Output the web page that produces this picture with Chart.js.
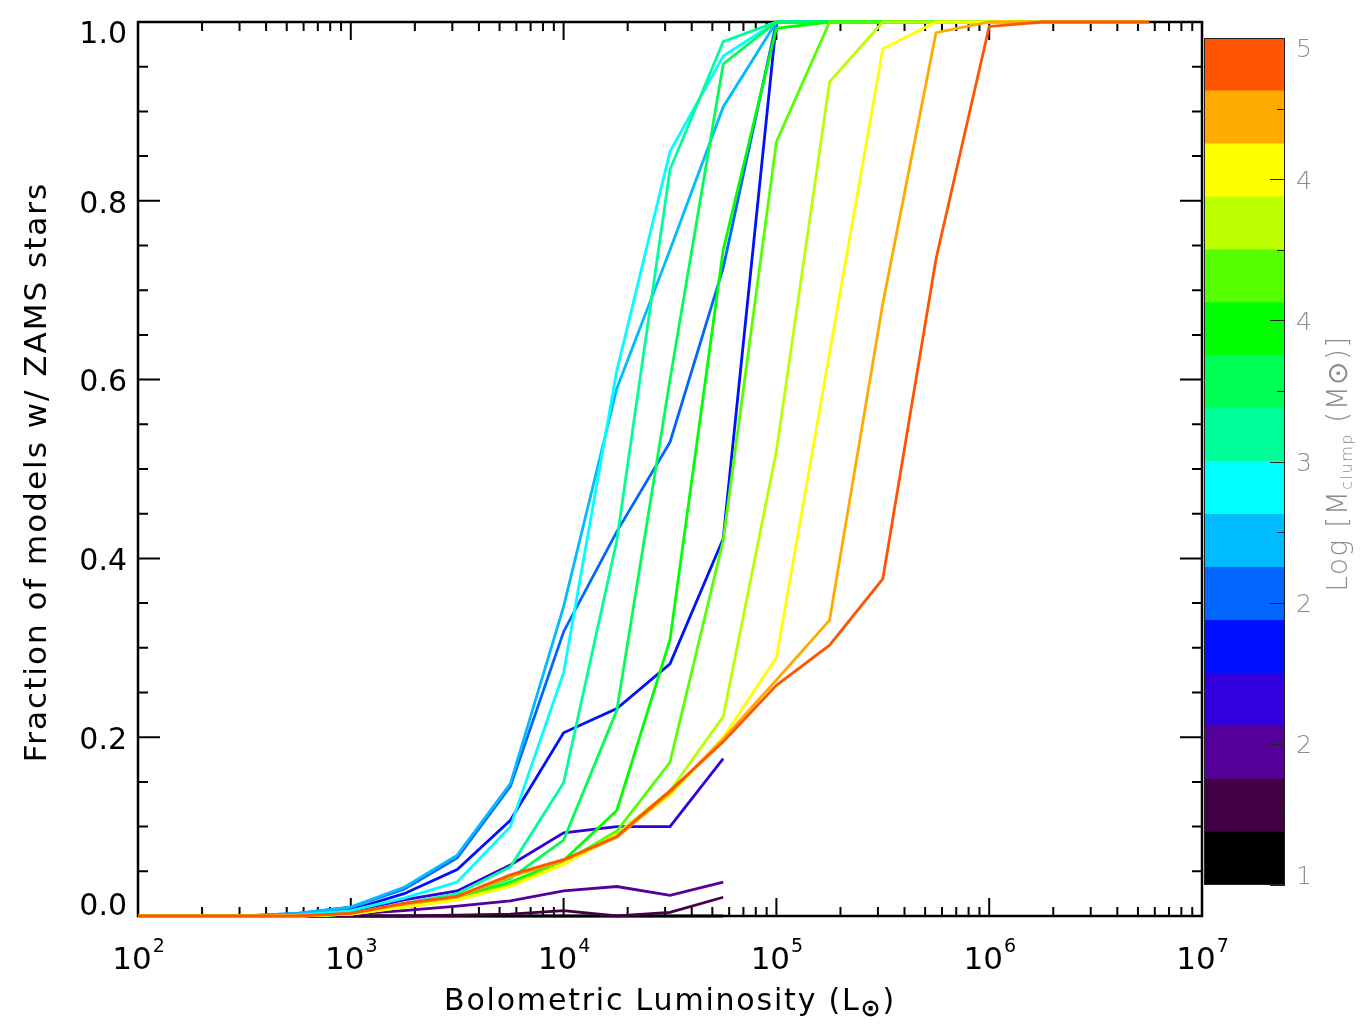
<!DOCTYPE html>
<html><head><meta charset="utf-8">
<script src="https://cdn.jsdelivr.net/npm/chart.js@4.4.1/dist/chart.umd.min.js"></script>
<style>
html,body{margin:0;padding:0;background:#fff;width:1369px;height:1031px;overflow:hidden}
#wrap{position:relative;width:1369px;height:1031px;background:#fff}
#main{position:absolute;left:0;top:0}
#cbar{position:absolute;left:1190px;top:0}
</style></head><body>
<div id="wrap"><canvas id="main" width="1369" height="1031"></canvas><canvas id="cbar" width="179" height="1031"></canvas></div>
<script>
// ---------- data ----------
const luminosity = [100, 177.83, 316.23, 562.34, 1000, 1778.3, 3162.3, 5623.4, 10000, 17783, 31623, 56234, 100000, 177828, 316228, 562341, 1000000, 1778279, 3162278, 5623413];

const fracM100 = [0,0,0,0,0,0,0,0,0,0,0,0,null,null,null,null,null,null,null,null];
const fracM125 = [0,0,0,0,0,0,0.001,0.002,0.006,0,0.004,0.021,null,null,null,null,null,null,null,null];
const fracM150 = [0,0,0,0,0.002,0.006,0.011,0.017,0.028,0.033,0.023,0.038,null,null,null,null,null,null,null,null];
const fracM175 = [0,0,0,0.001,0.005,0.018,0.028,0.057,0.093,0.1,0.1,0.176,null,null,null,null,null,null,null,null];
const fracM200 = [0,0,0,0.002,0.007,0.025,0.052,0.107,0.205,0.232,0.282,0.422,1,1,1,1,1,1,1,1];
const fracM225 = [0,0,0,0.003,0.01,0.03,0.065,0.145,0.318,0.43,0.53,0.725,1,1,1,1,1,1,1,1];
const fracM250 = [0,0,0,0.003,0.01,0.032,0.068,0.148,0.346,0.59,0.745,0.905,1,1,1,1,1,1,1,1];
const fracM275 = [0,0,0,0.001,0.006,0.02,0.038,0.1,0.272,0.61,0.855,0.962,1,1,1,1,1,1,1,1];
const fracM300 = [0,0,0,0,0.003,0.014,0.025,0.055,0.149,0.42,0.835,0.978,1,1,1,1,1,1,1,1];
const fracM325 = [0,0,0,0,0.002,0.012,0.022,0.042,0.085,0.23,0.6,0.953,1,1,1,1,1,1,1,1];
const fracM350 = [0,0,0,0,0.002,0.011,0.02,0.038,0.062,0.118,0.309,0.745,0.993,1,1,1,1,1,1,1];
const fracM375 = [0,0,0,0,0.002,0.01,0.019,0.035,0.06,0.095,0.172,0.42,0.866,1,1,1,1,1,1,1];
const fracM400 = [0,0,0,0,0.002,0.01,0.018,0.034,0.058,0.092,0.14,0.223,0.52,0.933,1,1,1,1,1,1];
const fracM425 = [0,0,0,0,0.002,0.01,0.018,0.033,0.058,0.09,0.135,0.2,0.289,0.63,0.97,1,1,1,1,1];
const fracM450 = [0,0,0,0,0.003,0.013,0.021,0.044,0.062,0.088,0.138,0.198,0.264,0.331,0.685,0.988,1,1,1,1];
const fracM475 = [0,0,0,0,0.003,0.014,0.022,0.046,0.063,0.089,0.14,0.195,0.258,0.303,0.377,0.735,0.995,1,1,1];

const seriesList = [fracM100, fracM125, fracM150, fracM175, fracM200, fracM225, fracM250, fracM275,
                    fracM300, fracM325, fracM350, fracM375, fracM400, fracM425, fracM450, fracM475];
const binColors = ['#000000','#440044','#550099','#3300DD','#0011FF','#0066FF','#00BBFF','#00FFFF',
                   '#00FF99','#00FF55','#00FF00','#55FF00','#BBFF00','#FFFF00','#FFAA00','#FF5500'];
const massBinEdges = [1.00,1.25,1.50,1.75,2.00,2.25,2.50,2.75,3.00,3.25,3.50,3.75,4.00,4.25,4.50,4.75,5.00];

const xMajorTicks = [1e2, 1e3, 1e4, 1e5, 1e6, 1e7];
const xTickBase = ['10','10','10','10','10','10'];
const xTickExp = ['2','3','4','5','6','7'];
const yMajorTicks = [0, 0.2, 0.4, 0.6, 0.8, 1.0];
const yTickLabels = ['0.0','0.2','0.4','0.6','0.8','1.0'];
const cbarTickValues = [1, 1.6667, 2.3333, 3, 3.6667, 4.3333, 5];
const cbarTickLabels = ['1','2','2','3','4','4','5'];
const cbarMinorTicks = [1.3333, 2, 2.6667, 3.3333, 4, 4.6667];

const xTitle = 'Bolometric Luminosity (L';
const xTitleSub = '\u2299';
const xTitleEnd = ')';
const yTitle = 'Fraction of models w/ ZAMS stars';
const cTitleA = 'Log [M';
const cTitleSub = 'clump';
const cTitleB = ' (M\u2299)]';

const FONT = '"DejaVu Sans", "Liberation Sans", sans-serif';

// ---------- main chart ----------
const xMinorTicks = [];
for (let k = 2; k < 7; k++) for (let m = 2; m <= 9; m++) xMinorTicks.push(m * Math.pow(10, k));
const yMinorTicks = [];
for (let i = 1; i < 20; i++) if (i % 4 !== 0) yMinorTicks.push(i * 0.05);

const mainDecor = {
  id: 'mainDecor',
  beforeDatasetsDraw(chart) {
    const {ctx, chartArea: a, scales: {x, y}} = chart;
    ctx.save();
    ctx.strokeStyle = '#000';
    ctx.lineWidth = 2;
    ctx.beginPath();
    xMinorTicks.forEach(v => { const p = x.getPixelForValue(v);
      ctx.moveTo(p, a.bottom); ctx.lineTo(p, a.bottom - 9); ctx.moveTo(p, a.top); ctx.lineTo(p, a.top + 9); });
    xMajorTicks.forEach(v => { const p = x.getPixelForValue(v);
      ctx.moveTo(p, a.bottom); ctx.lineTo(p, a.bottom - 18); ctx.moveTo(p, a.top); ctx.lineTo(p, a.top + 18); });
    yMinorTicks.forEach(v => { const p = y.getPixelForValue(v);
      ctx.moveTo(a.left, p); ctx.lineTo(a.left + 10, p); ctx.moveTo(a.right, p); ctx.lineTo(a.right - 10, p); });
    yMajorTicks.forEach(v => { const p = y.getPixelForValue(v);
      ctx.moveTo(a.left, p); ctx.lineTo(a.left + 22, p); ctx.moveTo(a.right, p); ctx.lineTo(a.right - 22, p); });
    ctx.stroke();
    ctx.lineWidth = 2.5;
    ctx.strokeRect(a.left, a.top, a.right - a.left, a.bottom - a.top);
    ctx.restore();
  },
  afterDraw(chart) {
    const {ctx, chartArea: a, scales: {x, y}} = chart;
    ctx.save();
    ctx.fillStyle = '#000';
    // y tick labels
    ctx.font = '30px ' + FONT;
    ctx.textAlign = 'right';
    ctx.textBaseline = 'middle';
    yMajorTicks.forEach((v, i) => {
      let p = y.getPixelForValue(v) + 4;
      p = Math.max(a.top + 13, Math.min(a.bottom - 9, p));
      ctx.fillText(yTickLabels[i], a.left - 11, p);
    });
    // x tick labels with superscripts
    ctx.textAlign = 'left';
    ctx.textBaseline = 'alphabetic';
    xMajorTicks.forEach((v, i) => {
      const p = x.getPixelForValue(v);
      ctx.font = '31px ' + FONT;
      const w1 = ctx.measureText(xTickBase[i]).width;
      ctx.font = '19px ' + FONT;
      const w2 = ctx.measureText(xTickExp[i]).width;
      const s = p - (w1 + w2) / 2;
      ctx.font = '31px ' + FONT;
      ctx.fillText(xTickBase[i], s, 969);
      ctx.font = '19px ' + FONT;
      ctx.fillText(xTickExp[i], s + w1 + 1, 952);
    });
    // x title
    ctx.font = '30px ' + FONT;
    ctx.letterSpacing = '1.8px';
    const tw1 = ctx.measureText(xTitle).width;
    ctx.font = 'bold 24px ' + FONT;
    const tw2 = ctx.measureText(xTitleSub).width;
    ctx.font = '30px ' + FONT;
    const tw3 = ctx.measureText(xTitleEnd).width;
    let sx = (a.left + a.right) / 2 - (tw1 + tw2 + tw3) / 2;
    ctx.fillText(xTitle, sx, 1010);
    ctx.font = 'bold 24px ' + FONT;
    ctx.fillText(xTitleSub, sx + tw1, 1016);
    ctx.font = '30px ' + FONT;
    ctx.fillText(xTitleEnd, sx + tw1 + tw2, 1010);
    // y title
    ctx.translate(46, (a.top + a.bottom) / 2 + 3);
    ctx.rotate(-Math.PI / 2);
    ctx.font = '31px ' + FONT;
    ctx.letterSpacing = '2px';
    ctx.textAlign = 'center';
    ctx.fillText(yTitle, 0, 0);
    ctx.restore();
  }
};

const datasets = seriesList.map((s, i) => ({
  label: 'logM ' + massBinEdges[i].toFixed(2),
  data: luminosity.map((L, j) => ({x: L, y: s[j]})).filter(p => p.y !== null),
  borderColor: binColors[i],
  backgroundColor: binColors[i],
  borderWidth: 2.8,
  pointRadius: 0,
  tension: 0,
  fill: false,
  clip: false,
  order: seriesList.length - i
}));

new Chart(document.getElementById('main'), {
  type: 'line',
  data: {datasets},
  options: {
    responsive: false, animation: false, devicePixelRatio: 1,
    layout: {padding: {left: 0, right: 167, top: 22, bottom: 0}},
    plugins: {legend: {display: false}, tooltip: {enabled: false}},
    scales: {
      x: {type: 'logarithmic', min: 100, max: 1e7, grid: {display: false}, border: {display: false},
          ticks: {display: false}, afterFit(s) { s.height = 115; }},
      y: {type: 'linear', min: 0, max: 1, grid: {display: false}, border: {display: false},
          ticks: {display: false}, afterFit(s) { s.width = 138; }}
    }
  },
  plugins: [mainDecor]
});

// ---------- colour bar ----------
const cbarDecor = {
  id: 'cbarDecor',
  afterDraw(chart) {
    const {ctx, chartArea: a, scales: {m}} = chart;
    ctx.save();
    ctx.strokeStyle = '#222';
    ctx.lineWidth = 1;
    ctx.beginPath();
    cbarTickValues.forEach(v => { const p = Math.round(m.getPixelForValue(v)) + 0.5;
      ctx.moveTo(a.right, p); ctx.lineTo(a.right - 15, p); });
    cbarMinorTicks.forEach(v => { const p = Math.round(m.getPixelForValue(v)) + 0.5;
      ctx.moveTo(a.right, p); ctx.lineTo(a.right - 8, p); });
    ctx.stroke();
    ctx.strokeRect(a.left + 0.5, a.top + 0.5, a.right - a.left - 1, a.bottom - a.top - 1);
    ctx.fillStyle = '#8c8c8c';
    ctx.font = '200 25px ' + FONT;
    ctx.textAlign = 'left';
    ctx.textBaseline = 'middle';
    cbarTickValues.forEach((v, i) => {
      let p = m.getPixelForValue(v) + 3;
      p = Math.max(a.top + 12, Math.min(a.bottom - 8, p));
      ctx.fillText(cbarTickLabels[i], a.right + 11, p);
    });
    // title
    ctx.translate(a.right + 62, (a.top + a.bottom) / 2 + 2);
    ctx.rotate(-Math.PI / 2);
    ctx.textBaseline = 'alphabetic';
    ctx.letterSpacing = '1.5px';
    ctx.font = '200 28px ' + FONT;
    const w1 = ctx.measureText(cTitleA).width;
    const w3 = ctx.measureText(cTitleB).width;
    ctx.font = '200 16px ' + FONT;
    const w2 = ctx.measureText(cTitleSub).width;
    const s = -(w1 + w2 + w3) / 2;
    ctx.font = '200 28px ' + FONT;
    ctx.fillText(cTitleA, s, 0);
    ctx.fillText(cTitleB, s + w1 + w2, 0);
    ctx.font = '200 16px ' + FONT;
    ctx.fillText(cTitleSub, s + w1, 5);
    ctx.restore();
  }
};

new Chart(document.getElementById('cbar'), {
  type: 'bar',
  data: {
    labels: [''],
    datasets: binColors.map((c, i) => ({
      data: [[massBinEdges[i], massBinEdges[i + 1]]],
      backgroundColor: c, borderWidth: 0, barPercentage: 1, categoryPercentage: 1,
      grouped: false, yAxisID: 'm'
    }))
  },
  options: {
    responsive: false, animation: false, devicePixelRatio: 1,
    layout: {padding: {left: 14, right: 0, top: 38, bottom: 146}},
    plugins: {legend: {display: false}, tooltip: {enabled: false}},
    scales: {
      x: {display: false},
      m: {position: 'right', min: 1, max: 5, grid: {display: false}, border: {display: false},
          ticks: {display: false}, afterFit(s) { s.width = 84; }}
    }
  },
  plugins: [cbarDecor]
});
</script>
</body></html>
